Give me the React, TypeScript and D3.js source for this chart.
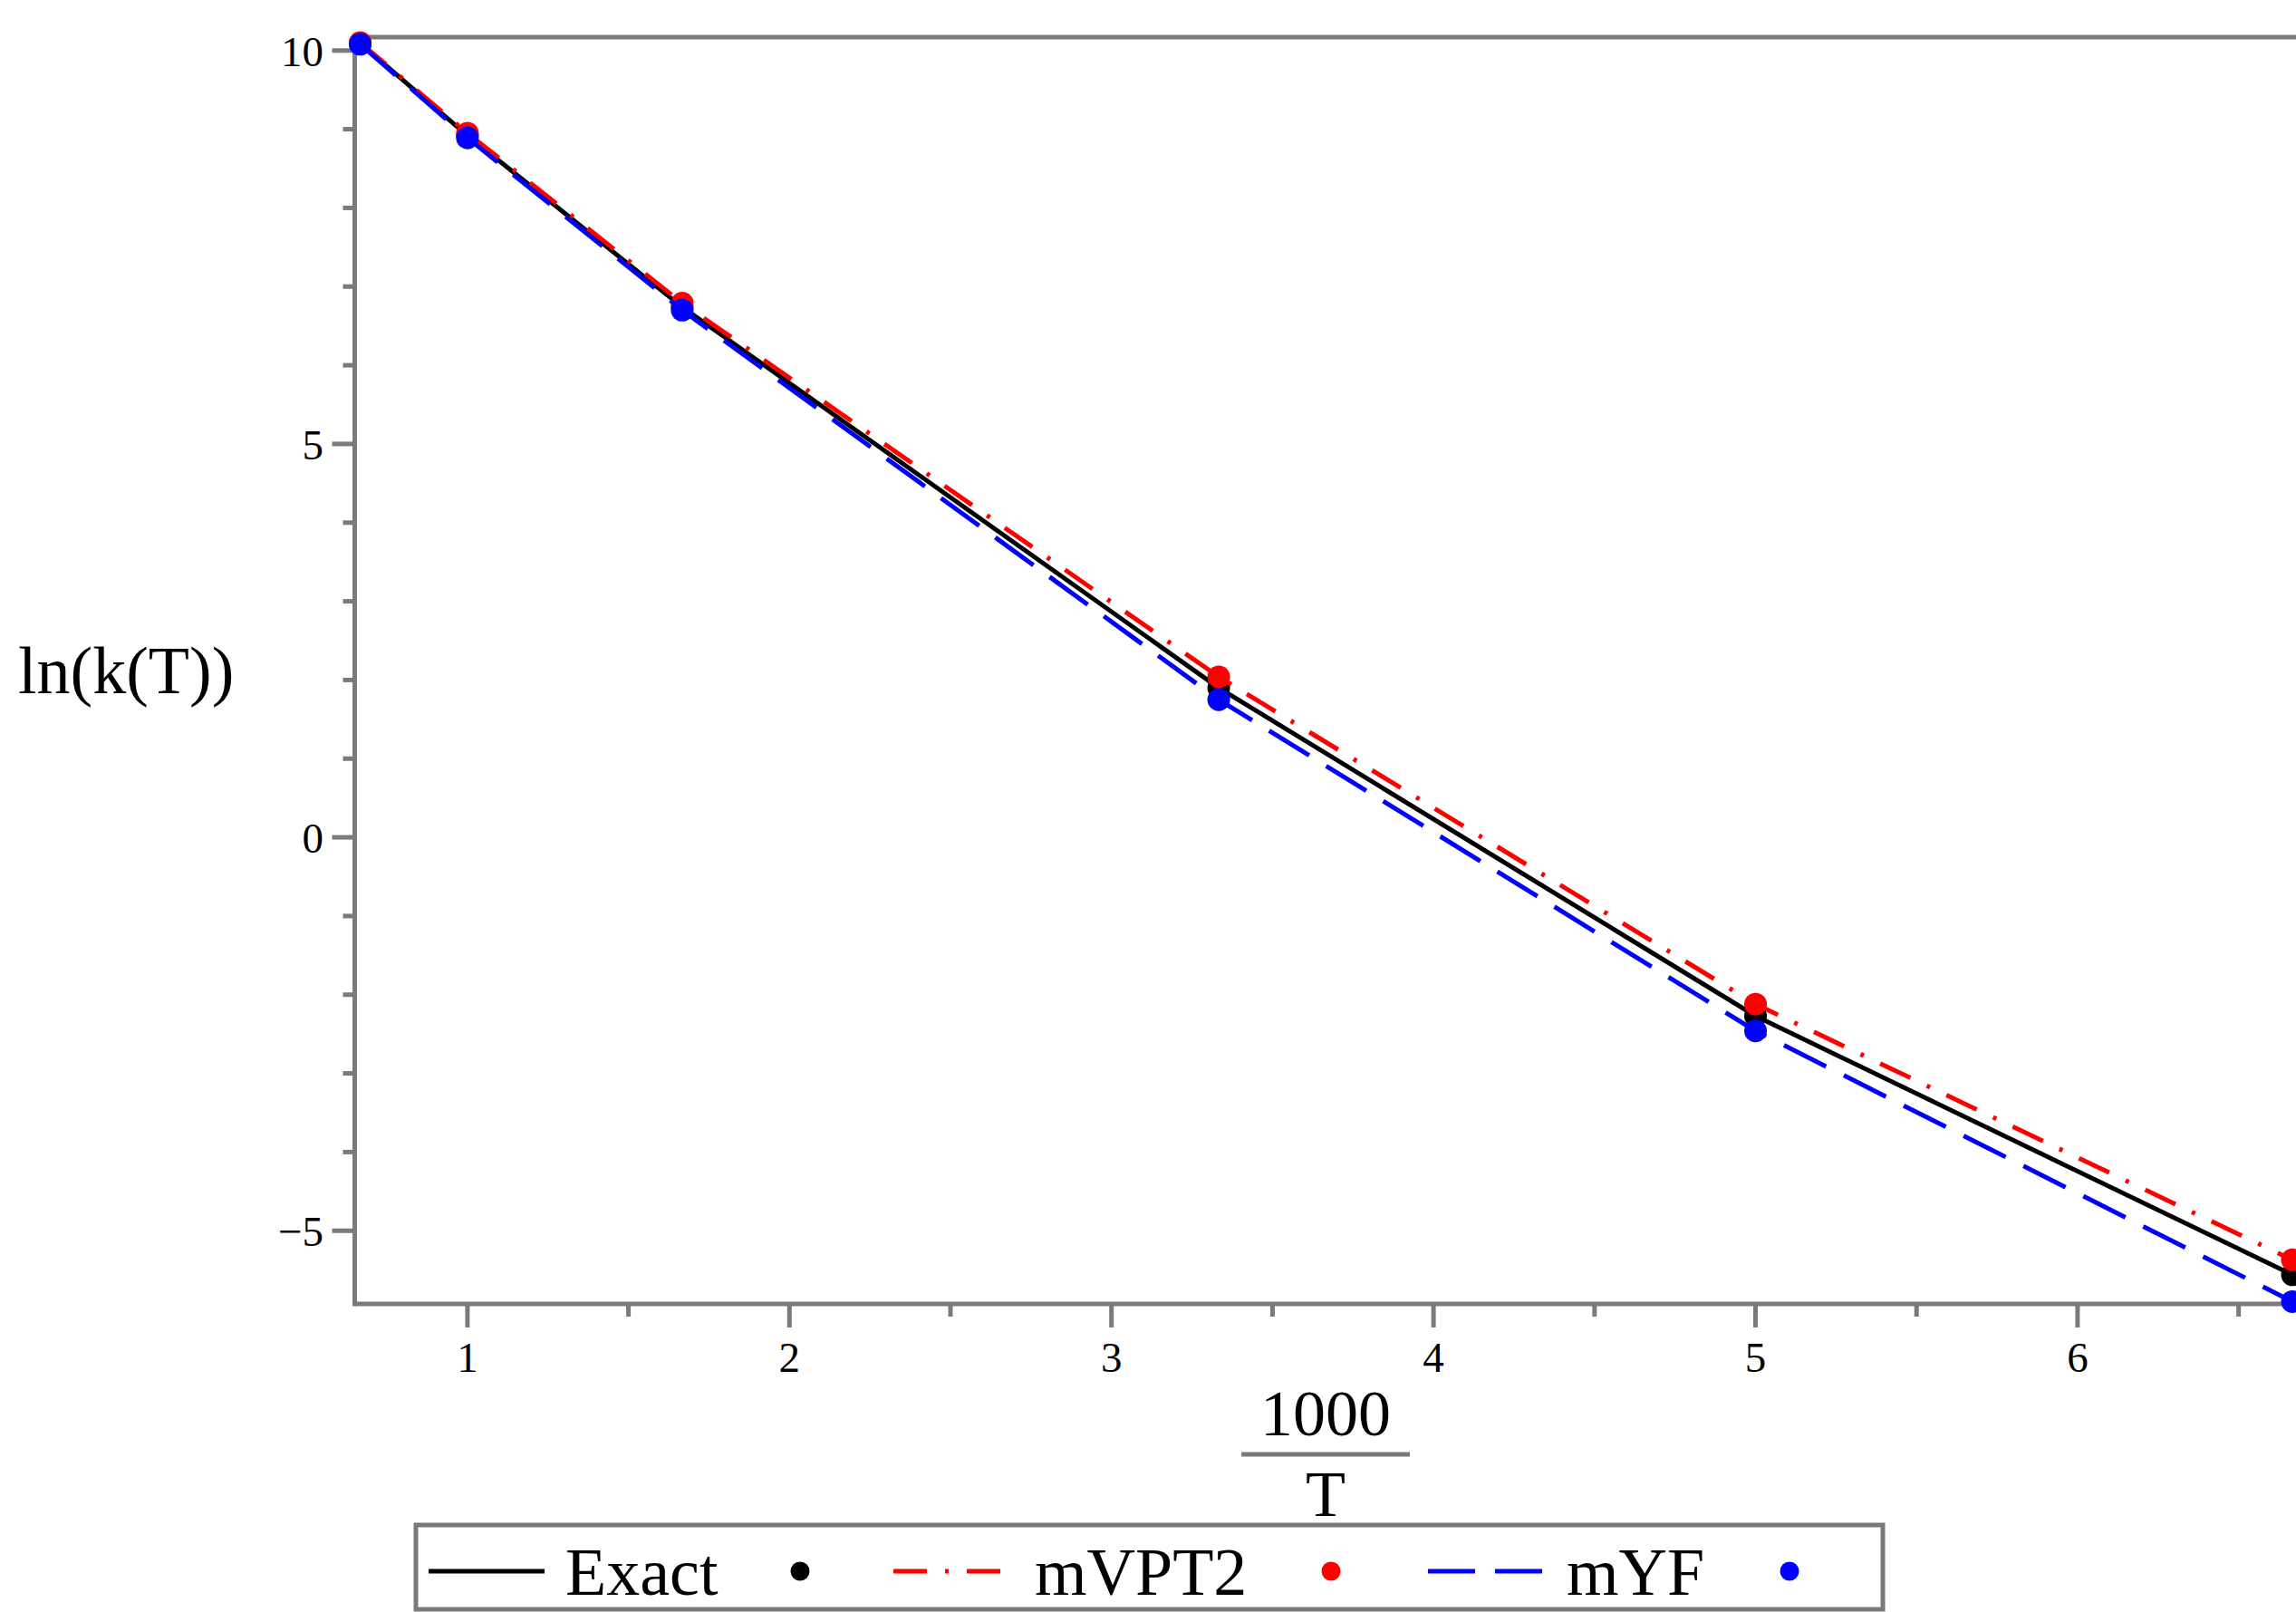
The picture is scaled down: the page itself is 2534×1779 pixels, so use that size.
import React from 'react';
import * as d3 from 'd3';

// 1000/T values (T = 1500, 1000, 600, 300, 200, 150 K)
const xValues = [0.667, 1, 1.667, 3.333, 5, 6.667];
const exactValues = [10.09, 8.92, 6.74, 1.9, -2.27, -5.56];
const mvpt2Values = [10.1, 8.95, 6.79, 2.04, -2.12, -5.37];
const myfValues = [10.08, 8.89, 6.7, 1.75, -2.46, -5.9];
const seriesNames = ['Exact', 'mVPT2', 'mYF'];
const seriesColors = ['#000000', '#ff0000', '#0000ff'];
const seriesDash = ['none', '37,20,4,20', '52,22'];
const xTickValues = [1, 2, 3, 4, 5, 6];
const xTickLabels = ['1', '2', '3', '4', '5', '6'];
const xMinorTicks = [1.5, 2.5, 3.5, 4.5, 5.5, 6.5];
const yTickValues = [-5, 0, 5, 10];
const yTickLabels = ['\u22125', '0', '5', '10'];
const yMinorTicks = [-4, -3, -2, -1, 1, 2, 3, 4, 6, 7, 8, 9];

const W = 2534;
const H = 1779;
const AX = '#7a7a7a';
const FONT = '"Liberation Serif", "Times New Roman", serif';

export default function App() {
  const x = d3.scaleLinear().domain([0.65, 6.68]).range([391.5, 2534.6]);
  const y = d3.scaleLinear().domain([-5.93, 10.17]).range([1439, 41]);
  const [x0] = x.range();
  const [yb, yt] = y.range();

  const series = [exactValues, mvpt2Values, myfValues];
  const line = d3
    .line<[number, number]>()
    .x((d) => x(d[0]))
    .y((d) => y(d[1]));

  const legendItems = [
    { lx: 473, tx: 624, dx: 883 },
    { lx: 986, tx: 1142, dx: 1469 },
    { lx: 1576, tx: 1729, dx: 1975 },
  ];
  const legY = 1734;

  return (
    <svg
      width={W}
      height={H}
      style={{ position: 'absolute', left: 0, top: 0, display: 'block', background: '#fff' }}
    >
      <rect x={0} y={0} width={W} height={H} fill="#fff" />
      {/* frame */}
      <line x1={x0} x2={W + 5} y1={yt} y2={yt} stroke={AX} strokeWidth={5} />
      <line x1={x0} x2={W + 5} y1={yb} y2={yb} stroke={AX} strokeWidth={5} />
      <line x1={x0} x2={x0} y1={yt - 2.5} y2={yb + 2.5} stroke={AX} strokeWidth={5} />

      {/* y ticks */}
      {yTickValues.map((v, i) => (
        <g key={'yt' + v}>
          <line x1={x0 - 25} x2={x0} y1={y(v)} y2={y(v)} stroke={AX} strokeWidth={5} />
          <text
            x={357}
            y={y(v) + 17}
            textAnchor="end"
            fontFamily={FONT}
            fontSize={47}
            fill="#000"
          >
            {yTickLabels[i]}
          </text>
        </g>
      ))}
      {yMinorTicks.map((v) => (
        <line key={'ym' + v} x1={x0 - 13} x2={x0} y1={y(v)} y2={y(v)} stroke={AX} strokeWidth={5} />
      ))}

      {/* x ticks */}
      {xTickValues.map((v, i) => (
        <g key={'xt' + v}>
          <line x1={x(v)} x2={x(v)} y1={yb} y2={yb + 26} stroke={AX} strokeWidth={5} />
          <text
            x={x(v)}
            y={1514}
            textAnchor="middle"
            fontFamily={FONT}
            fontSize={47}
            fill="#000"
          >
            {xTickLabels[i]}
          </text>
        </g>
      ))}
      {xMinorTicks.map((v) => (
        <line key={'xm' + v} x1={x(v)} x2={x(v)} y1={yb} y2={yb + 14} stroke={AX} strokeWidth={5} />
      ))}

      {/* axis labels */}
      <text x={20} y={765} fontFamily={FONT} fontSize={74} fill="#000">
        ln(k(T))
      </text>
      <text x={1463} y={1584} textAnchor="middle" fontFamily={FONT} fontSize={72} fill="#000">
        1000
      </text>
      <line x1={1370} x2={1556} y1={1605} y2={1605} stroke={AX} strokeWidth={5} />
      <text x={1463} y={1673} textAnchor="middle" fontFamily={FONT} fontSize={72} fill="#000">
        T
      </text>

      {/* series */}
      {series.map((vals, si) => {
        const pts: [number, number][] = xValues.map((xv, i) => [xv, vals[i]]);
        return (
          <g key={'s' + si}>
            <path
              d={line(pts) || ''}
              fill="none"
              stroke={seriesColors[si]}
              strokeWidth={5}
              strokeDasharray={seriesDash[si]}
            />
            {pts.map((p, i) => (
              <circle key={i} cx={x(p[0])} cy={y(p[1])} r={12.5} fill={seriesColors[si]} />
            ))}
          </g>
        );
      })}

      {/* legend */}
      <rect x={459} y={1683} width={1619} height={93} fill="#fff" stroke={AX} strokeWidth={5} />
      {seriesNames.map((name, i) => (
        <g key={'lg' + name}>
          <line
            x1={legendItems[i].lx}
            x2={legendItems[i].lx + 128}
            y1={legY}
            y2={legY}
            stroke={seriesColors[i]}
            strokeWidth={5}
            strokeDasharray={seriesDash[i]}
          />
          <text x={legendItems[i].tx} y={1760} fontFamily={FONT} fontSize={74} fill="#000">
            {name}
          </text>
          <circle cx={legendItems[i].dx} cy={legY} r={10.5} fill={seriesColors[i]} />
        </g>
      ))}
    </svg>
  );
}
